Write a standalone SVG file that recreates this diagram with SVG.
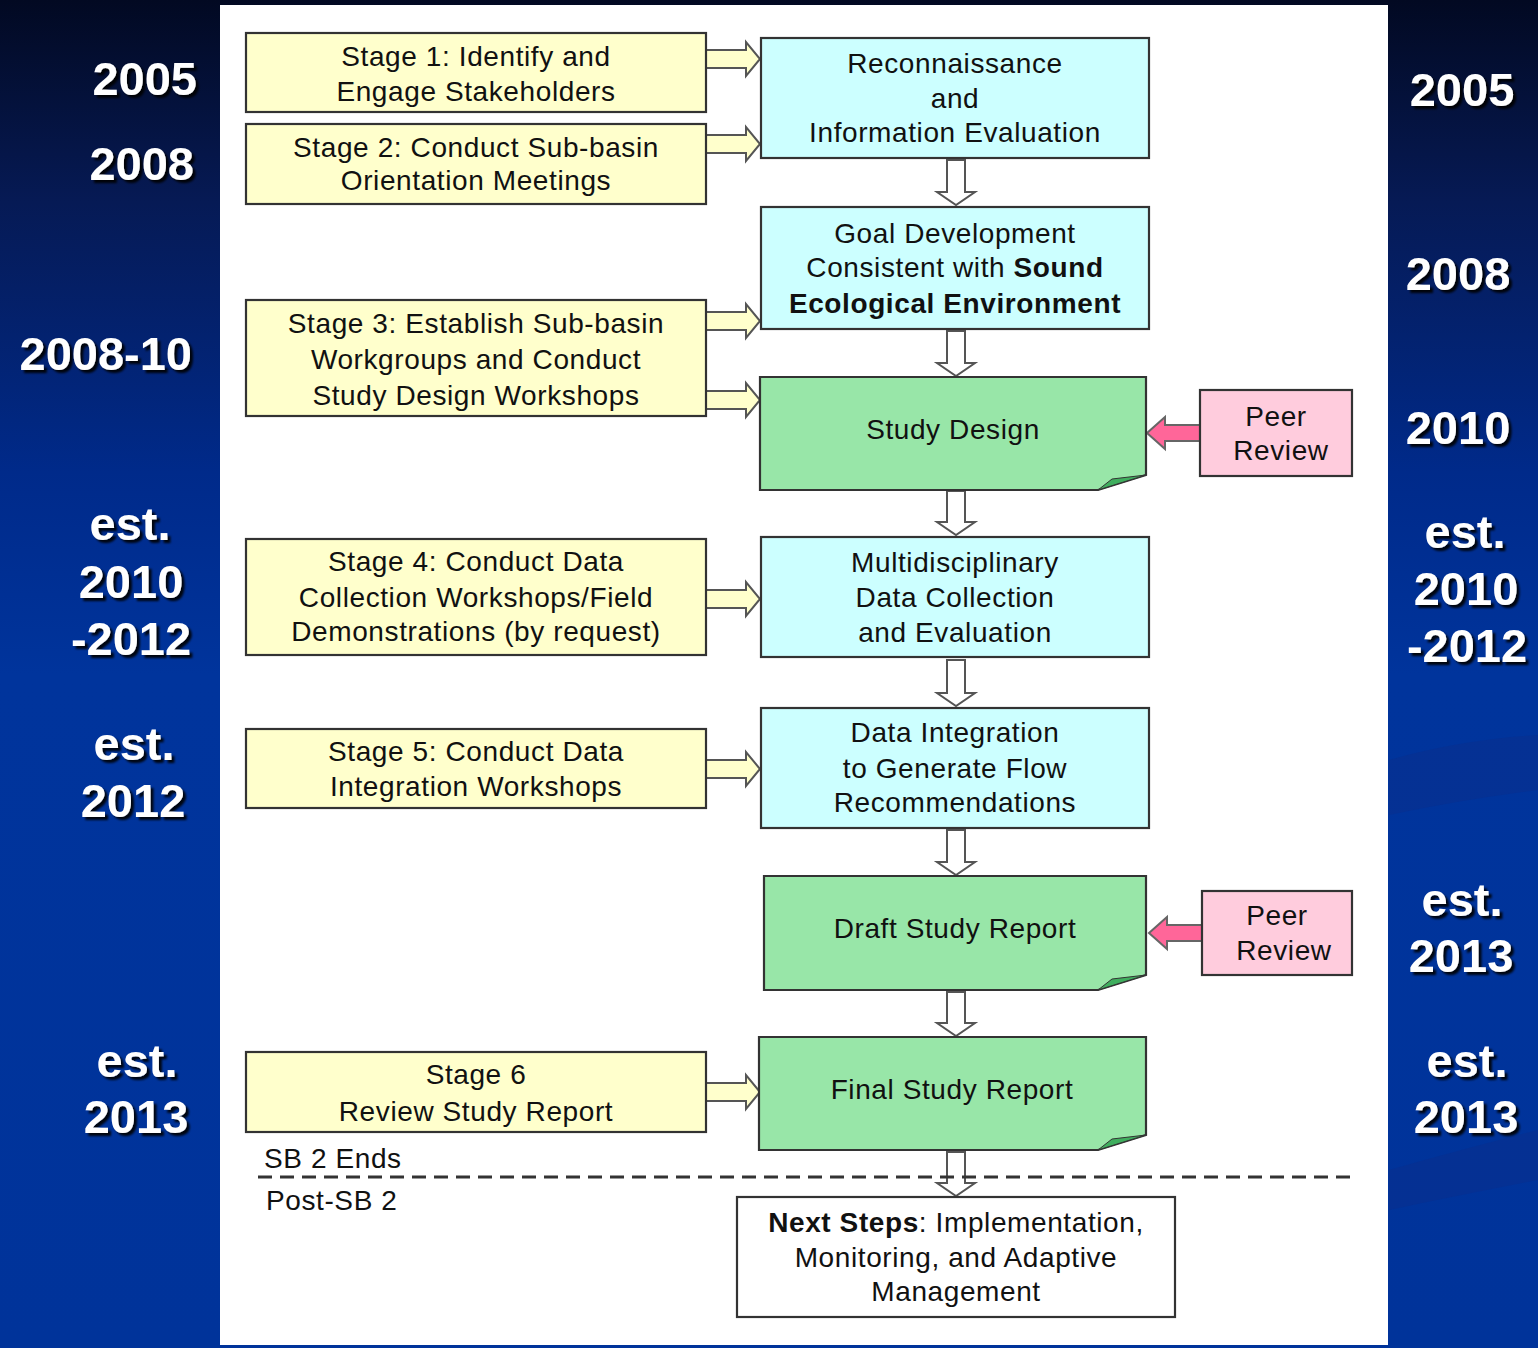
<svg xmlns="http://www.w3.org/2000/svg" width="1538" height="1348" viewBox="0 0 1538 1348">
<defs>
<linearGradient id="bg" x1="0" y1="0" x2="0" y2="1">
<stop offset="0" stop-color="#020922"/>
<stop offset="0.15" stop-color="#061a55"/>
<stop offset="0.35" stop-color="#002a8a"/>
<stop offset="0.5" stop-color="#00349c"/>
<stop offset="1" stop-color="#00339a"/>
</linearGradient>
<filter id="sh" x="-20%" y="-20%" width="140%" height="140%">
<feDropShadow dx="3" dy="3" stdDeviation="1" flood-color="#000" flood-opacity="0.9"/>
</filter>
<style>
.yr{font-family:"Liberation Sans",Arial,sans-serif;font-weight:bold;font-size:47px;fill:#fff;filter:url(#sh)}
.t{font-family:"Liberation Sans",Arial,sans-serif;font-size:28px;fill:#111;text-anchor:middle;letter-spacing:0.6px}
.st{text-anchor:start}
.yel{fill:#ffffcc;stroke:#333;stroke-width:2.2}
.cyan{fill:#ccffff;stroke:#333;stroke-width:2.2}
.grn{fill:#98e6a8;stroke:#333;stroke-width:2.2}
.fold{fill:#3fae5e;stroke:#333;stroke-width:1}
.pink{fill:#ffccdd;stroke:#333;stroke-width:2.2}
.wht{fill:#fff;stroke:#333;stroke-width:2.2}
.ra{fill:#ffffcc;stroke:#555;stroke-width:2}
.da{fill:#fff;stroke:#555;stroke-width:2}
.pa{fill:#ff6699;stroke:#666;stroke-width:2}
</style>
<polygon id="rarr" points="0,-9 40,-9 40,-17 54,0 40,17 40,9 0,9"/>
<polygon id="parr" points="0,-8 -35,-8 -35,-16 -53,0 -35,16 -35,8 0,8"/>
</defs>

<rect x="0" y="0" width="1538" height="1348" fill="url(#bg)"/>
<path d="M1389,760 Q1460,740 1538,735 L1538,790 Q1460,800 1389,815 Z" fill="#0a2d8c" opacity="0.5"/>
<path d="M1389,1170 Q1460,1150 1538,1130 L1538,1180 Q1460,1195 1389,1210 Z" fill="#0a2d8c" opacity="0.5"/>
<rect x="220" y="5" width="1168" height="1340" fill="#fff"/>

<g id="years-left">
<text class="yr" x="197" y="95" text-anchor="end">2005</text>
<text class="yr" x="194" y="180" text-anchor="end">2008</text>
<text class="yr" x="192" y="370" text-anchor="end">2008-10</text>
<text class="yr" x="130" y="540" text-anchor="middle">est.</text>
<text class="yr" x="131" y="598" text-anchor="middle">2010</text>
<text class="yr" x="131" y="655" text-anchor="middle">-2012</text>
<text class="yr" x="134" y="760" text-anchor="middle">est.</text>
<text class="yr" x="133" y="817" text-anchor="middle">2012</text>
<text class="yr" x="137" y="1077" text-anchor="middle">est.</text>
<text class="yr" x="136" y="1133" text-anchor="middle">2013</text>
</g>
<g id="years-right">
<text class="yr" x="1462" y="106" text-anchor="middle">2005</text>
<text class="yr" x="1458" y="290" text-anchor="middle">2008</text>
<text class="yr" x="1458" y="444" text-anchor="middle">2010</text>
<text class="yr" x="1465" y="548" text-anchor="middle">est.</text>
<text class="yr" x="1466" y="605" text-anchor="middle">2010</text>
<text class="yr" x="1467" y="662" text-anchor="middle">-2012</text>
<text class="yr" x="1462" y="916" text-anchor="middle">est.</text>
<text class="yr" x="1461" y="972" text-anchor="middle">2013</text>
<text class="yr" x="1467" y="1077" text-anchor="middle">est.</text>
<text class="yr" x="1466" y="1133" text-anchor="middle">2013</text>
</g>

<g id="connectors">
<use href="#rarr" class="ra" x="706" y="59"/>
<use href="#rarr" class="ra" x="706" y="144"/>
<use href="#rarr" class="ra" x="706" y="321"/>
<use href="#rarr" class="ra" x="706" y="400"/>
<use href="#rarr" class="ra" x="706" y="599"/>
<use href="#rarr" class="ra" x="706" y="769"/>
<use href="#rarr" class="ra" x="706" y="1092"/>
<polygon class="da" points="947,160 965,160 965,192 975,192 956,205 937,192 947,192"/>
<polygon class="da" points="947,331 965,331 965,363 975,363 956,376 937,363 947,363"/>
<polygon class="da" points="947,491 965,491 965,522 975,522 956,535 937,522 947,522"/>
<polygon class="da" points="947,660 965,660 965,693 975,693 956,706 937,693 947,693"/>
<polygon class="da" points="947,830 965,830 965,862 975,862 956,875 937,862 947,862"/>
<polygon class="da" points="947,992 965,992 965,1023 975,1023 956,1036 937,1023 947,1023"/>
<polygon class="da" points="947,1152 965,1152 965,1183 975,1183 956,1196 937,1183 947,1183"/>
<use href="#parr" class="pa" x="1200" y="433"/>
<use href="#parr" class="pa" x="1202" y="933"/>
<line x1="258" y1="1177" x2="1352" y2="1177" stroke="#333" stroke-width="3" stroke-dasharray="14 8"/>
</g>

<g id="stage1">
<rect class="yel" x="246" y="33" width="460" height="79"/>
<text class="t" x="476" y="66">Stage 1:  Identify and</text>
<text class="t" x="476" y="101">Engage Stakeholders</text>
</g>
<g id="stage2">
<rect class="yel" x="246" y="124" width="460" height="80"/>
<text class="t" x="476" y="157">Stage 2:  Conduct Sub-basin</text>
<text class="t" x="476" y="190">Orientation Meetings</text>
</g>
<g id="stage3">
<rect class="yel" x="246" y="300" width="460" height="116"/>
<text class="t" x="476" y="333">Stage 3: Establish Sub-basin</text>
<text class="t" x="476" y="369">Workgroups and Conduct</text>
<text class="t" x="476" y="405">Study Design Workshops</text>
</g>
<g id="stage4">
<rect class="yel" x="246" y="539" width="460" height="116"/>
<text class="t" x="476" y="571">Stage 4:  Conduct Data</text>
<text class="t" x="476" y="607">Collection Workshops/Field</text>
<text class="t" x="476" y="641">Demonstrations (by request)</text>
</g>
<g id="stage5">
<rect class="yel" x="246" y="729" width="460" height="79"/>
<text class="t" x="476" y="761">Stage 5:  Conduct Data</text>
<text class="t" x="476" y="796">Integration Workshops</text>
</g>
<g id="stage6">
<rect class="yel" x="246" y="1052" width="460" height="80"/>
<text class="t" x="476" y="1084">Stage 6</text>
<text class="t" x="476" y="1121">Review Study Report</text>
</g>

<g id="recon">
<rect class="cyan" x="761" y="38" width="388" height="120"/>
<text class="t" x="955" y="73">Reconnaissance</text>
<text class="t" x="955" y="108">and</text>
<text class="t" x="955" y="142">Information Evaluation</text>
</g>
<g id="goal">
<rect class="cyan" x="761" y="207" width="388" height="122"/>
<text class="t" x="955" y="243">Goal Development</text>
<text class="t" x="955" y="277">Consistent with <tspan font-weight="bold">Sound</tspan></text>
<text class="t" x="955" y="313" font-weight="bold">Ecological Environment</text>
</g>
<g id="studydesign">
<path class="grn" d="M760,377 H1146 V475 L1098,490 H760 Z"/>
<path class="fold" d="M1098,490 L1146,475 L1112,479 Z"/>
<text class="t" x="953" y="439">Study Design</text>
</g>
<g id="peer1">
<rect class="pink" x="1200" y="390" width="152" height="86"/>
<text class="t" x="1276" y="426">Peer</text>
<text class="t" x="1281" y="460">Review</text>
</g>
<g id="multi">
<rect class="cyan" x="761" y="537" width="388" height="120"/>
<text class="t" x="955" y="572">Multidisciplinary</text>
<text class="t" x="955" y="607">Data Collection</text>
<text class="t" x="955" y="642">and Evaluation</text>
</g>
<g id="integration">
<rect class="cyan" x="761" y="708" width="388" height="120"/>
<text class="t" x="955" y="742">Data Integration</text>
<text class="t" x="955" y="778">to Generate Flow</text>
<text class="t" x="955" y="812">Recommendations</text>
</g>
<g id="draft">
<path class="grn" d="M764,876 H1146 V975 L1098,990 H764 Z"/>
<path class="fold" d="M1098,990 L1146,975 L1112,979 Z"/>
<text class="t" x="955" y="938">Draft Study Report</text>
</g>
<g id="peer2">
<rect class="pink" x="1202" y="891" width="150" height="84"/>
<text class="t" x="1277" y="925">Peer</text>
<text class="t" x="1284" y="960">Review</text>
</g>
<g id="final">
<path class="grn" d="M759,1037 H1146 V1135 L1098,1150 H759 Z"/>
<path class="fold" d="M1098,1150 L1146,1135 L1112,1139 Z"/>
<text class="t" x="952" y="1099">Final Study Report</text>
</g>
<g id="phase-labels">
<text class="t st" x="264" y="1168">SB 2 Ends</text>
<text class="t st" x="266" y="1210">Post-SB 2</text>
</g>
<g id="nextsteps">
<rect class="wht" x="737" y="1197" width="438" height="120"/>
<text class="t" x="956" y="1232"><tspan font-weight="bold">Next Steps</tspan>: Implementation,</text>
<text class="t" x="956" y="1267">Monitoring, and Adaptive</text>
<text class="t" x="956" y="1301">Management</text>
</g>
</svg>
